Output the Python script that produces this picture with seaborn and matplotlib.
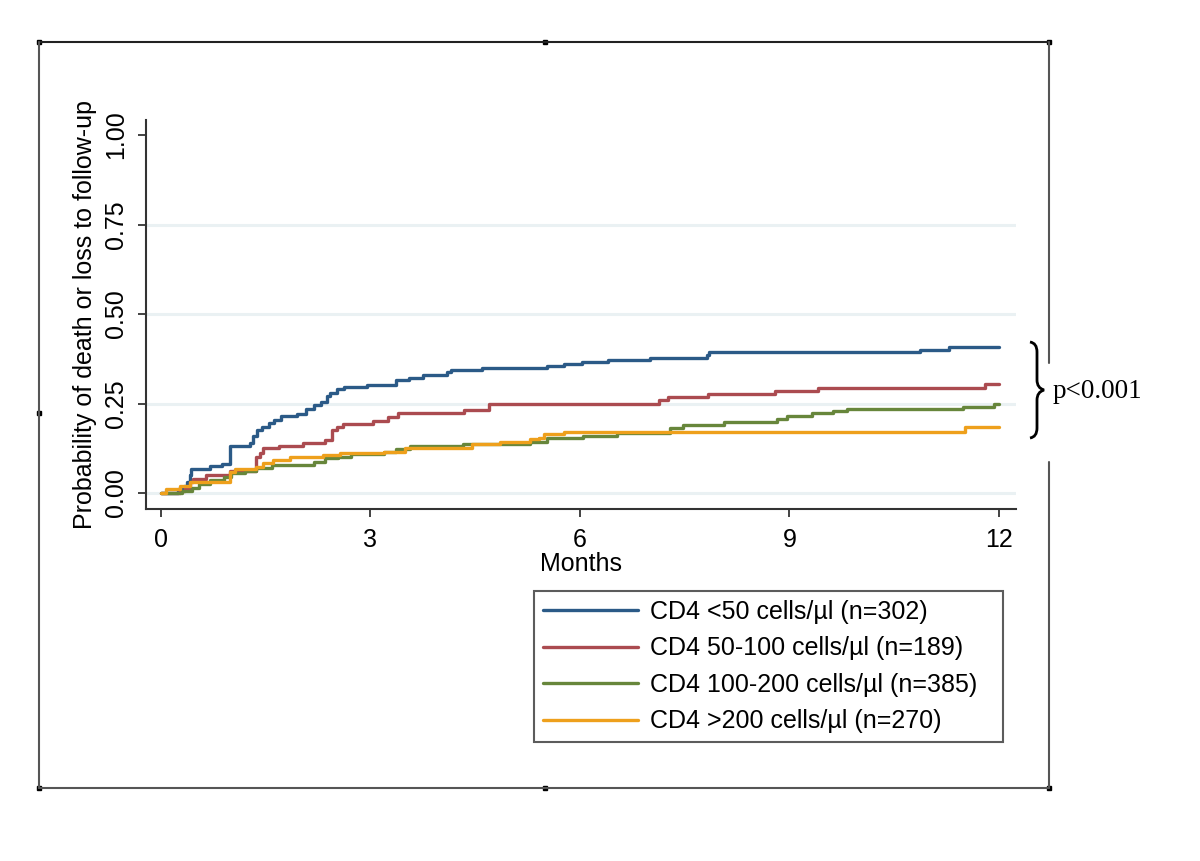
import numpy as np
import pandas as pd
import matplotlib
matplotlib.use("Agg")
import matplotlib.pyplot as plt
from matplotlib.path import Path
from matplotlib.patches import PathPatch, Rectangle
import seaborn as sns

# ---------------- data ----------------
labels = ["CD4 <50 cells/\u00b5l (n=302)",
          "CD4 50-100 cells/\u00b5l (n=189)",
          "CD4 100-200 cells/\u00b5l (n=385)",
          "CD4 >200 cells/\u00b5l (n=270)"]
colors = ["#2b5a87", "#ab4b50", "#67863b", "#eea01c"]

t_lt50 = [0, 0.25, 0.33, 0.37, 0.42, 0.44, 0.70, 0.88, 0.99, 1.28, 1.32, 1.38, 1.45,
          1.55, 1.62, 1.72, 1.95, 2.08, 2.20, 2.30, 2.38, 2.43, 2.52, 2.62, 2.95,
          3.37, 3.55, 3.75, 4.10, 4.15, 4.60, 5.53, 5.77, 6.03, 6.41, 7.00, 7.82,
          7.85, 10.87, 11.29, 12.0]
p_lt50 = [0, 0.01, 0.02, 0.03, 0.05, 0.066, 0.075, 0.082, 0.13, 0.14, 0.16, 0.175,
          0.185, 0.195, 0.205, 0.215, 0.22, 0.235, 0.245, 0.255, 0.27, 0.28, 0.29,
          0.297, 0.303, 0.315, 0.32, 0.329, 0.338, 0.344, 0.349, 0.355, 0.36, 0.366,
          0.372, 0.377, 0.386, 0.393, 0.399, 0.407, 0.407]

t_50_100 = [0, 0.27, 0.35, 0.42, 0.46, 0.65, 0.99, 1.37, 1.42, 1.47, 1.70, 2.04,
            2.35, 2.45, 2.52, 2.61, 3.04, 3.26, 3.40, 4.34, 4.70, 7.13, 7.26, 7.83,
            8.80, 9.41, 11.80, 12.0]
p_50_100 = [0, 0.005, 0.015, 0.03, 0.04, 0.05, 0.062, 0.10, 0.112, 0.126, 0.13,
            0.139, 0.148, 0.176, 0.185, 0.193, 0.20, 0.211, 0.224, 0.232, 0.249,
            0.26, 0.267, 0.276, 0.286, 0.294, 0.304, 0.304]

t_100_200 = [0, 0.30, 0.45, 0.55, 0.70, 0.90, 1.00, 1.20, 1.37, 1.60, 2.20, 2.35,
             2.54, 2.73, 3.20, 3.37, 3.57, 4.33, 5.29, 5.53, 6.05, 6.53, 7.29, 7.48,
             8.06, 8.82, 8.96, 9.32, 9.63, 9.82, 10.97, 11.49, 11.93, 12.0]
p_100_200 = [0, 0.005, 0.015, 0.025, 0.035, 0.045, 0.055, 0.062, 0.07, 0.078, 0.087,
             0.097, 0.10, 0.108, 0.115, 0.122, 0.131, 0.137, 0.143, 0.153, 0.16,
             0.167, 0.181, 0.19, 0.199, 0.208, 0.215, 0.223, 0.23, 0.234, 0.236,
             0.241, 0.249, 0.249]

t_gt200 = [0, 0.07, 0.27, 0.42, 0.46, 0.99, 1.06, 1.37, 1.47, 1.61, 1.85, 2.32,
           2.56, 3.20, 3.50, 4.45, 4.86, 5.29, 5.41, 5.48, 5.77, 11.52, 12.0]
p_gt200 = [0, 0.01, 0.02, 0.03, 0.032, 0.06, 0.066, 0.074, 0.083, 0.092, 0.10,
           0.106, 0.113, 0.115, 0.127, 0.136, 0.143, 0.15, 0.155, 0.164, 0.17,
           0.183, 0.183]

y_ticks = [0.0, 0.25, 0.5, 0.75, 1.0]
y_ticklabels = ["0.00", "0.25", "0.50", "0.75", "1.00"]
x_ticks = [0, 3, 6, 9, 12]
x_label = "Months"
y_label = "Probability of death or loss to follow-up"
p_text = "p<0.001"

series = [(t_lt50, p_lt50), (t_50_100, p_50_100), (t_100_200, p_100_200), (t_gt200, p_gt200)]
frames = []
for lab, (t, p) in zip(labels, series):
    frames.append(pd.DataFrame({"Months": t, "Prob": p, "group": lab}))
df = pd.concat(frames, ignore_index=True)

# ---------------- figure ----------------
sns.set_theme(style="white")
plt.rcParams["font.family"] = ["Liberation Sans", "DejaVu Sans"]
plt.rcParams["text.color"] = "black"
plt.rcParams["axes.labelcolor"] = "black"
plt.rcParams["xtick.color"] = "black"
plt.rcParams["ytick.color"] = "black"

W, H = 1200, 861
fig = plt.figure(figsize=(W / 100, H / 100), dpi=100)
fig.patch.set_facecolor("white")

def fx(x):
    return x / W

def fy(y):
    return 1 - y / H

ax = fig.add_axes([fx(146), fy(509), fx(1016) - fx(146), fy(120) - fy(509)])
ax.set_facecolor("white")

for yv in y_ticks[:-1]:
    ax.axhline(yv, color="#eaf1f3", lw=2.2, zorder=0)

for lab, col in zip(labels, colors):
    sub = df[df["group"] == lab]
    sns.lineplot(data=sub, x="Months", y="Prob", ax=ax, color=col, lw=2.4,
                 drawstyle="steps-post", estimator=None, sort=True, label=lab,
                 legend=False)

ax.set_xlim(-0.21, 12.243)
ax.set_ylim(-0.0447, 1.042)
ax.set_xticks(x_ticks)
ax.set_xticklabels([str(v) for v in x_ticks], fontsize=18)
ax.set_yticks(y_ticks)
ax.set_yticklabels(y_ticklabels, fontsize=18, rotation=90, va="center")
ax.tick_params(axis="both", direction="out", length=6, width=1.2, color="#222222",
               bottom=True, left=True, labelcolor="black")
ax.tick_params(axis="x", pad=8)
ax.tick_params(axis="y", pad=7)
for s in ["top", "right"]:
    ax.spines[s].set_visible(False)
for s in ["left", "bottom"]:
    ax.spines[s].set_color("#333333")
    ax.spines[s].set_linewidth(1.5)
ax.set_xlabel(x_label, fontsize=18, labelpad=0, color="black")
ax.set_ylabel(y_label, fontsize=18, labelpad=5, color="black")

handles = ax.get_lines()[-4:]
leg = ax.legend(handles=handles, labels=labels, loc="upper left",
                bbox_to_anchor=(fx(534), fy(745), fx(1003) - fx(534), fy(591) - fy(745)),
                bbox_transform=fig.transFigure, mode="expand",
                fontsize=18, frameon=True, fancybox=False, handlelength=3.8,
                handletextpad=0.5, labelspacing=0.5, borderpad=0.35,
                borderaxespad=0)
leg.get_frame().set_edgecolor("#333333")
leg.get_frame().set_linewidth(1.5)
for txt in leg.get_texts():
    txt.set_color("black")
for h in leg.get_lines():
    h.set_linewidth(2.4)

# ---------------- overlay: outer frame, brace, p-value ----------------
ov = fig.add_axes([0, 0, 1, 1], facecolor="none")
ov.set_xlim(0, W)
ov.set_ylim(H, 0)
ov.axis("off")
fc = "#555555"
ov.plot([39, 1049], [42, 42], color="#222222", lw=1.5)
ov.plot([39, 1049], [788, 788], color=fc, lw=1.5)
ov.plot([39, 39], [42, 788], color=fc, lw=1.5)
ov.plot([1049, 1049], [42, 363], color=fc, lw=1.5)
ov.plot([1049, 1049], [462, 788], color=fc, lw=1.5)
for (sx, sy) in [(39, 42), (545, 42), (1049, 42), (39, 413), (39, 788), (545, 788), (1049, 788)]:
    ov.add_patch(Rectangle((sx - 2, sy - 2), 4, 4, color="black"))

verts = [(1030, 342), (1037, 343), (1037, 352),
         (1037, 380), (1037, 388), (1044, 390),
         (1037, 392), (1037, 400), (1037, 428),
         (1037, 437), (1030, 438)]
codes = [Path.MOVETO, Path.CURVE3, Path.CURVE3,
         Path.LINETO, Path.CURVE3, Path.CURVE3,
         Path.CURVE3, Path.CURVE3, Path.LINETO,
         Path.CURVE3, Path.CURVE3]
ov.add_patch(PathPatch(Path(verts, codes), facecolor="none", edgecolor="black", lw=2.0))
ov.text(1053, 392, p_text, fontsize=19.5, family=["Liberation Serif", "DejaVu Serif"],
        ha="left", va="center", color="black")

fig.savefig("out.png", dpi=100, facecolor="white")
